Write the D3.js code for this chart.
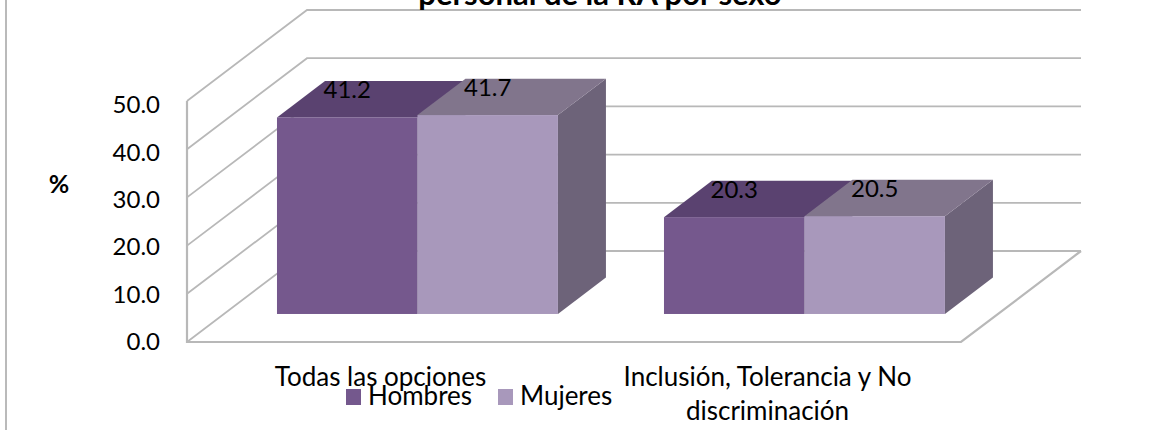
<!DOCTYPE html>
<html>
<head>
<meta charset="utf-8">
<script src="https://cdn.jsdelivr.net/npm/d3@7"></script>
<style>
  html, body { margin: 0; padding: 0; background: #fff; }
  svg { display: block; }
  text { font-family: Lato, 'Open Sans', sans-serif; fill: #000; }
</style>
</head>
<body>
<div id="svg-container"></div>
<script>
// Data
const categories = ['Todas las opciones', 'Inclusión, Tolerancia y No discriminación']
const seriesNames = ['Hombres', 'Mujeres']
const hombres = [41.2, 20.3]
const mujeres = [41.7, 20.5]
const yTicks = [0, 10, 20, 30, 40, 50]
const titleText = 'personal de la RA por sexo'
const yAxisLabel = '%'

const width = 1172
const height = 430

// Front plane of the 3D box
const floorLeft = 187
const floorRight = 961
const floorY = 342
const wallTopY = 101
const depthX = 120
const depthY = -91

// Bars sit part way into the box
const barDepthStart = 0.308
const barDepthEnd = 0.708
const barUnit = 4.77 // bars are a bit shorter than the front axis, they are further back

const frontColors = ['#74588d', '#a898bb']
const topColors = ['#5a4370', '#81748c']
const sideColor = '#6d6379'
const gridColor = '#b8b8b8'

const svg = d3
  .select('#svg-container')
  .append('svg')
  .attr('width', width)
  .attr('height', height)

const defs = svg.append('defs')
defs
  .append('filter')
  .attr('id', 'soft')
  .attr('x', '-5%')
  .attr('y', '-5%')
  .attr('width', '110%')
  .attr('height', '110%')
  .append('feGaussianBlur')
  .attr('stdDeviation', 0.5)

const chartCore = svg.append('g').attr('filter', 'url(#soft)')

const xScale = d3
  .scaleBand()
  .domain(categories)
  .range([floorLeft, floorRight])
  .paddingInner(0.274)
  .paddingOuter(0.137)

const seriesScale = d3
  .scaleBand()
  .domain(seriesNames)
  .range([0, xScale.bandwidth()])

const yScale = d3.scaleLinear().domain([0, 50]).range([floorY, wallTopY])
// tick labels are spaced a little tighter than the wall lines
const yLabelScale = d3.scaleLinear().domain([0, 50]).range([floorY, 105])

const depthXScale = d3.scaleLinear().domain([0, 1]).range([0, depthX])
const depthYScale = d3.scaleLinear().domain([0, 1]).range([0, depthY])

const linePath = d3.line()

// page border on the left
svg
  .append('line')
  .attr('x1', 6)
  .attr('x2', 6)
  .attr('y1', 0)
  .attr('y2', height)
  .attr('stroke', '#8c8c8c')
  .attr('stroke-width', 1.2)

// walls
chartCore
  .append('g')
  .selectAll('path')
  .data(yTicks)
  .join('path')
  .attr('fill', 'none')
  .attr('stroke', gridColor)
  .attr('stroke-width', 1.8)
  .attr('d', d =>
    linePath([
      [floorLeft, yScale(d)],
      [floorLeft + depthX, yScale(d) + depthY],
      [floorRight + depthX, yScale(d) + depthY],
    ]),
  )

chartCore
  .append('path')
  .attr('fill', 'none')
  .attr('stroke', gridColor)
  .attr('stroke-width', 2.2)
  .attr('d', linePath([
    [floorLeft, wallTopY],
    [floorLeft, floorY],
    [floorRight, floorY],
    [floorRight + depthX, floorY + depthY],
  ]))

// bars
const barData = seriesNames.flatMap((name, s) =>
  categories.map((category, c) => ({
    category,
    name,
    s,
    value: (s === 0 ? hombres : mujeres)[c],
  })),
)

const baseY = floorY + depthYScale(barDepthStart)
const offsetX = depthXScale(barDepthStart)
const faceX = depthXScale(barDepthEnd - barDepthStart)
const faceY = depthYScale(barDepthEnd - barDepthStart)

const barGroup = chartCore
  .append('g')
  .selectAll('g')
  .data(barData)
  .join('g')
  .attr('transform', d =>
    `translate(${xScale(d.category) + seriesScale(d.name) + offsetX}, ${baseY})`,
  )

barGroup
  .append('path')
  .attr('fill', sideColor)
  .attr('d', d => {
    const w = seriesScale.bandwidth()
    const h = d.value * barUnit
    return linePath([
      [w, -h],
      [w + faceX, -h + faceY],
      [w + faceX, faceY],
      [w, 0],
    ]) + 'Z'
  })

barGroup
  .append('path')
  .attr('fill', d => topColors[d.s])
  .attr('d', d => {
    const w = seriesScale.bandwidth()
    const h = d.value * barUnit
    return linePath([
      [0, -h],
      [faceX, -h + faceY],
      [w + faceX, -h + faceY],
      [w, -h],
    ]) + 'Z'
  })

barGroup
  .append('rect')
  .attr('fill', d => frontColors[d.s])
  .attr('x', 0)
  .attr('y', d => -d.value * barUnit)
  .attr('width', seriesScale.bandwidth())
  .attr('height', d => d.value * barUnit)

// data labels
svg
  .append('g')
  .selectAll('text')
  .data(barData)
  .join('text')
  .attr('text-anchor', 'middle')
  .attr('font-size', 24)
  .attr('x', d => xScale(d.category) + seriesScale(d.name) + offsetX + seriesScale.bandwidth() / 2)
  .attr('y', d => baseY - d.value * barUnit - 19)
  .text(d => d.value.toFixed(1))

// y axis
const yAxis = svg
  .append('g')
  .attr('transform', `translate(${floorLeft}, 0)`)
  .call(
    d3
      .axisLeft(yLabelScale)
      .tickValues(yTicks)
      .tickSize(0)
      .tickPadding(27)
      .tickFormat(d3.format('.1f')),
  )
yAxis.select('.domain').remove()
yAxis
  .selectAll('text')
  .attr('font-size', 24)
  .style('font-family', "Lato, 'Open Sans', sans-serif")

svg
  .append('text')
  .attr('x', 59)
  .attr('y', 193)
  .attr('text-anchor', 'middle')
  .attr('font-size', 25)
  .attr('font-weight', 700)
  .text(yAxisLabel)

// title, cut off by the top of the image
svg
  .append('text')
  .attr('x', 600)
  .attr('y', 5)
  .attr('text-anchor', 'middle')
  .attr('font-size', 31)
  .attr('font-weight', 700)
  .text(titleText)

// category labels, the long one wraps on two lines
const categoryLines = [[categories[0]], ['Inclusión, Tolerancia y No', 'discriminación']]
svg
  .append('g')
  .selectAll('text')
  .data(categories)
  .join('text')
  .attr('text-anchor', 'middle')
  .attr('font-size', 26)
  .attr('y', 386)
  .attr('x', d => xScale(d) + xScale.bandwidth() / 2)
  .selectAll('tspan')
  .data((d, i) => categoryLines[i])
  .join('tspan')
  .attr('x', function () {
    return d3.select(this.parentNode).attr('x')
  })
  .attr('dy', (d, i) => (i === 0 ? 0 : 34))
  .text(d => d)

// legend
const legendX = d3.scaleOrdinal().domain(seriesNames).range([346, 498])
const legend = svg
  .append('g')
  .selectAll('g')
  .data(seriesNames)
  .join('g')
  .attr('transform', d => `translate(${legendX(d)}, 389)`)

legend
  .append('rect')
  .attr('width', 15)
  .attr('height', 16)
  .attr('fill', (d, i) => frontColors[i])

legend
  .append('text')
  .attr('x', 22)
  .attr('y', 16)
  .attr('font-size', 26)
  .text(d => d)
</script>
</body>
</html>
